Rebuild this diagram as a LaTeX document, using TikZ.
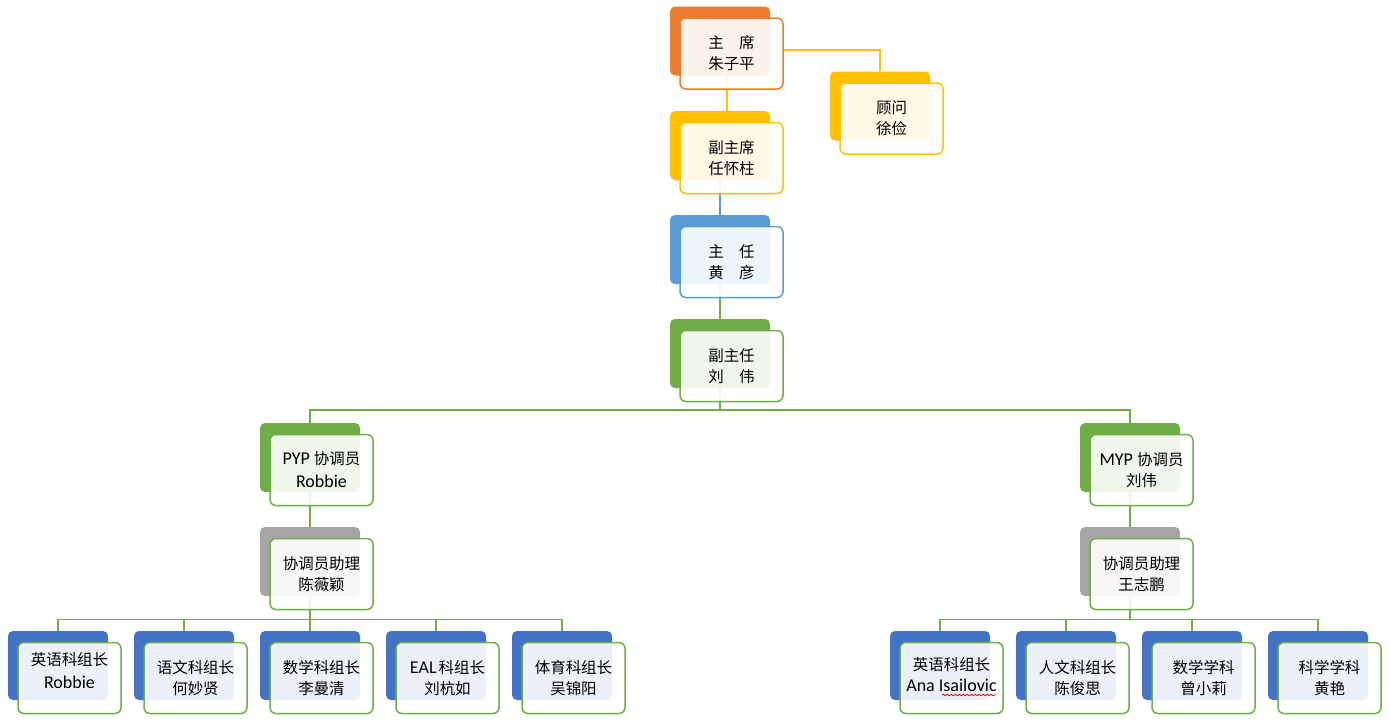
\documentclass[tikz,border=0pt]{standalone}
\usepackage{fontspec}
\setmainfont{Carlito}
\newfontfamily\cjk[Scale=0.86]{Noto Sans CJK SC}
\usetikzlibrary{backgrounds,decorations.pathmorphing}

\definecolor{orgorange}{HTML}{ED7D31}
\definecolor{orgyellow}{HTML}{FFC000}
\definecolor{orgblue}{HTML}{5B9BD5}
\definecolor{orggreen}{HTML}{70AD47}
\definecolor{orggray}{HTML}{A5A5A5}
\definecolor{orgdark}{HTML}{4472C4}

% name, x, y (centre of the back box), back colour, frame colour, text
\newcommand{\member}[6]{%
  \node[backbox,fill=#4] (#1-b) at (#2,#3) {};
  \node[frontbox,draw=#5] (#1) at (#2+11.5,#3+12.5) {#6};
}

\begin{document}
\begin{tikzpicture}[x=1pt,y=-1pt,thick]
\tikzstyle{backbox} = [rectangle,rounded corners=5pt,minimum width=100pt,minimum height=69pt,inner sep=0pt]
\tikzstyle{frontbox} = [rectangle,rounded corners=6pt,fill=white,fill opacity=0.9,text opacity=1,line width=1.5pt,minimum width=103pt,minimum height=71pt,inner sep=0pt,align=center,font=\fontsize{18}{21}\selectfont]
\tikzstyle{link} = [line width=1.5pt]
\useasboundingbox (0,0) rectangle (1390,721);

% top of the chart
\member{zx}{720}{41}{orgorange}{orgorange}{{\cjk 主\hspace{1em}席}\\{\cjk 朱子平}}
\member{gw}{880}{106}{orgyellow}{orgyellow}{{\cjk 顾问}\\{\cjk 徐俭}}
\member{fzx}{720}{145.5}{orgyellow}{orgyellow}{{\cjk 副主席}\\{\cjk 任怀柱}}
\member{zr}{720}{249.5}{orgblue}{orgblue}{{\cjk 主\hspace{1em}任}\\{\cjk 黄\hspace{1em}彦}}
\member{fzr}{720}{353.5}{orggreen}{orggreen}{{\cjk 副主任}\\{\cjk 刘\hspace{1em}伟}}

% PYP side
\member{pyp}{310}{457.5}{orggreen}{orggreen}{PYP {\cjk 协调员}\\[2pt]Robbie}
\member{pa}{310}{561.5}{orggray}{orggreen}{{\cjk 协调员助理}\\{\cjk 陈薇颖}}
\member{p1}{58}{665.5}{orgdark}{orggreen}{{\cjk 英语科组长}\\[2pt]Robbie\\[-6pt]}
\member{p2}{184}{665.5}{orgdark}{orggreen}{{\cjk 语文科组长}\\{\cjk 何妙贤}}
\member{p3}{310}{665.5}{orgdark}{orggreen}{{\cjk 数学科组长}\\{\cjk 李曼清}}
\member{p4}{436}{665.5}{orgdark}{orggreen}{EAL\hspace{2pt}{\cjk 科组长}\\{\cjk 刘杭如}}
\member{p5}{562}{665.5}{orgdark}{orggreen}{{\cjk 体育科组长}\\{\cjk 吴锦阳}}

% MYP side
\member{myp}{1130}{457.5}{orggreen}{orggreen}{MYP {\cjk 协调员}\\{\cjk 刘伟}}
\member{ma}{1130}{561.5}{orggray}{orggreen}{{\cjk 协调员助理}\\{\cjk 王志鹏}}
\member{m1}{940}{665.5}{orgdark}{orggreen}{{\cjk 英语科组长}\\Ana Isailovic\\[-14pt]}
\member{m2}{1066}{665.5}{orgdark}{orggreen}{{\cjk 人文科组长}\\{\cjk 陈俊思}}
\member{m3}{1192}{665.5}{orgdark}{orggreen}{{\cjk 数学学科}\\{\cjk 曾小莉}}
\member{m4}{1318}{665.5}{orgdark}{orggreen}{{\cjk 科学学科}\\{\cjk 黄艳}}

\draw[red,decorate,decoration={snake,amplitude=0.8pt,segment length=4pt}] (942,695) -- (996,695);

\begin{pgfonlayer}{background}
\draw[link,orgyellow] ([xshift=7pt]zx-b.south) -- ([xshift=7pt]fzx-b.north);
\draw[link,orgyellow] ([yshift=3.5pt]zx.east) -| (gw-b.north);
\draw[link,orgblue] (fzx-b.south) -- (zr-b.north);
\draw[link,orggreen] (zr-b.south) -- (fzr-b.north);
\coordinate (bus) at (720,410);
\draw[link,orggreen] (fzr-b.south) -- (bus);
\draw[link,orggreen] (pyp-b.north) |- (bus) -| (myp-b.north);
\draw[link,orggreen] (pyp-b.south) -- (pa-b.north);
\draw[link,orggreen] (myp-b.south) -- (ma-b.north);
\foreach \c in {p1,p2,p3,p4,p5}
  \draw[link,orggreen] (pa-b.south) -- ++(0,23) -| (\c-b.north);
\foreach \c in {m1,m2,m3,m4}
  \draw[link,orggreen] (ma-b.south) -- ++(0,23) -| (\c-b.north);
\end{pgfonlayer}
\end{tikzpicture}
\end{document}
